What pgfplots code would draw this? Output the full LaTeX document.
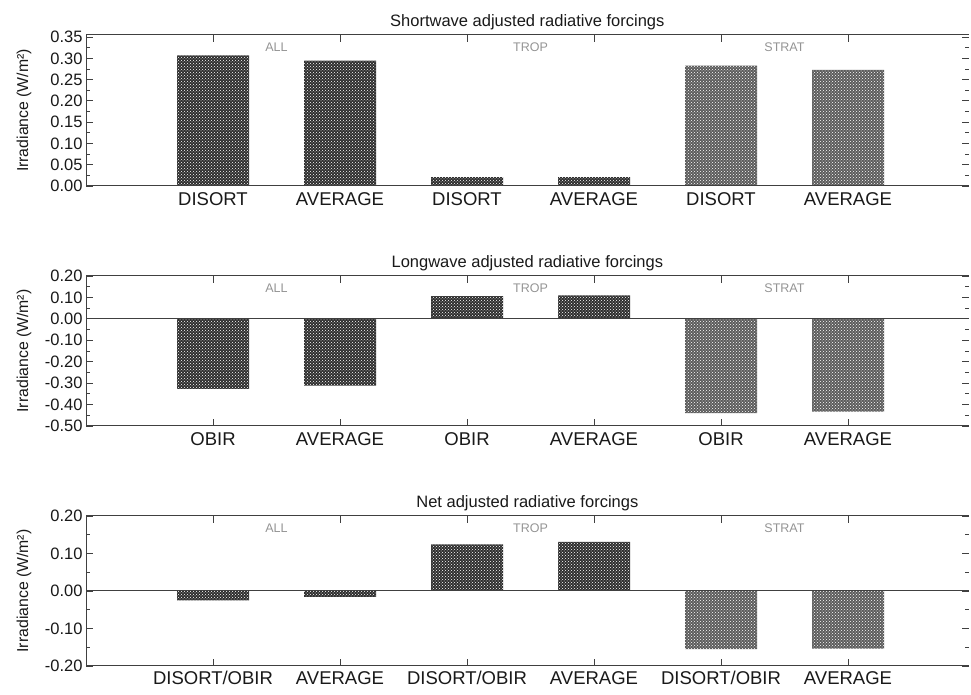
\documentclass[border=0pt]{standalone}
\usepackage{fontspec}
\setmainfont{Liberation Sans}
\usepackage{pgfplots}
\pgfplotsset{compat=1.18}
\usetikzlibrary{patterns}

\definecolor{framegray}{gray}{0.25}
\definecolor{grouptext}{gray}{0.58}

\pgfplotsset{
  forcing panel/.style={
    scale only axis,
    width=882.65pt, height=150pt,
    xmin=-1, xmax=5.95,
    xtick={0,...,5},
    axis line style={draw=none},
    tick style={draw=framegray, line width=0.9pt},
    major tick length=7pt, minor tick length=4pt,
    tick align=inside,
    minor y tick num=1,
    font=\fontsize{16.5}{18}\selectfont,
    yticklabel style={font=\fontsize{16.5}{18}\selectfont, text=black!90},
    xticklabel style={font=\fontsize{18.5}{20}\selectfont, text=black!90, yshift=-3pt},
    title style={font=\fontsize{16.5}{18}\selectfont, text=black!90, yshift=-4pt},
    ylabel={Irradiance (W/m²)},
    ylabel style={at={(axis description cs:-0.0703,0.5)}, anchor=center,
      text=black!90, font=\fontsize{15.8}{18}\selectfont},
    clip=false,
  },
  dark bar/.style={ybar, bar shift=0pt, bar width=72pt, draw=none,
    fill=black!82, postaction={pattern=crosshatch dots, pattern color=white}},
  light bar/.style={ybar, bar shift=0pt, bar width=72pt, draw=none,
    fill=black!64, postaction={pattern=crosshatch dots, pattern color=white}},
}

% frame: left, top and bottom edges only (the right side carries ticks alone)
\newcommand{\panelframe}{%
  \draw[framegray, line width=1pt] (rel axis cs:1,1) -- (rel axis cs:0,1)
    -- (rel axis cs:0,0) -- (rel axis cs:1,0);}
\newcommand{\zeroline}{%
  \draw[framegray, line width=1pt] (axis cs:-1,0) -- (axis cs:5.95,0);}
% region names ALL / TROP / STRAT over each pair of bars
\newcommand{\grouplabels}[1]{%
  \node[grouptext, font=\fontsize{12.5}{14}\selectfont, anchor=center]
    at ({axis cs:0.5,0}|-{rel axis cs:0,#1}) {ALL};
  \node[grouptext, font=\fontsize{12.5}{14}\selectfont, anchor=center]
    at ({axis cs:2.5,0}|-{rel axis cs:0,#1}) {TROP};
  \node[grouptext, font=\fontsize{12.5}{14}\selectfont, anchor=center]
    at ({axis cs:4.5,0}|-{rel axis cs:0,#1}) {STRAT};}

\begin{document}
\begin{tikzpicture}
\useasboundingbox (0pt,0pt) rectangle (971pt,695pt);

% ---------------- shortwave ----------------
\begin{axis}[forcing panel,
  at={(86pt,509pt)}, anchor=south west, height=151pt,
  ymin=0, ymax=0.355,
  ytick={0,0.05,0.10,0.15,0.20,0.25,0.30,0.35},
  yticklabels={0.00,0.05,0.10,0.15,0.20,0.25,0.30,0.35},
  xticklabels={DISORT,AVERAGE,DISORT,AVERAGE,DISORT,AVERAGE},
  title={Shortwave adjusted radiative forcings},
]
\addplot[dark bar] coordinates {(0,0.307) (1,0.295) (2,0.021) (3,0.021)};
\addplot[light bar] coordinates {(4,0.283) (5,0.273)};
\panelframe
\grouplabels{0.92}
\end{axis}

% ---------------- longwave ----------------
\begin{axis}[forcing panel,
  at={(86pt,269pt)}, anchor=south west,
  ymin=-0.5, ymax=0.2,
  ytick={-0.5,-0.4,-0.3,-0.2,-0.1,0,0.1,0.2},
  yticklabels={-0.50,-0.40,-0.30,-0.20,-0.10,0.00,0.10,0.20},
  xticklabels={OBIR,AVERAGE,OBIR,AVERAGE,OBIR,AVERAGE},
  title={Longwave adjusted radiative forcings},
]
\addplot[dark bar] coordinates {(0,-0.327) (1,-0.312) (2,0.106) (3,0.109)};
\addplot[light bar] coordinates {(4,-0.440) (5,-0.433)};
\panelframe
\zeroline
\grouplabels{0.92}
\end{axis}

% ---------------- net ----------------
\begin{axis}[forcing panel,
  at={(86pt,29pt)}, anchor=south west,
  ymin=-0.2, ymax=0.2,
  ytick={-0.2,-0.1,0,0.1,0.2},
  yticklabels={-0.20,-0.10,0.00,0.10,0.20},
  xticklabels={DISORT/OBIR,AVERAGE,DISORT/OBIR,AVERAGE,DISORT/OBIR,AVERAGE},
  xticklabel style={yshift=1pt},
  title={Net adjusted radiative forcings},
]
\addplot[dark bar] coordinates {(0,-0.025) (1,-0.016) (2,0.124) (3,0.131)};
\addplot[light bar] coordinates {(4,-0.155) (5,-0.154)};
\panelframe
\zeroline
\grouplabels{0.92}
\end{axis}
\end{tikzpicture}
\end{document}
